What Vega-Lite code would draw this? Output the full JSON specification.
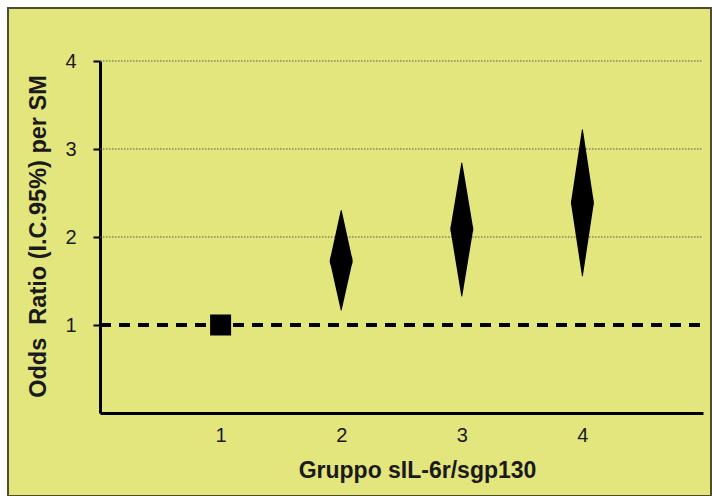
{
  "$schema": "https://vega.github.io/schema/vega-lite/v6.json",
  "width": 703,
  "height": 488,
  "autosize": {"type": "none"},
  "padding": {"left": 8, "top": 8, "right": 1, "bottom": 0},
  "background": "white",
  "config": {
    "font": "Liberation Sans",
    "view": {"fill": "#E3E57D", "stroke": "#4d4d33", "strokeWidth": 2}
  },
  "datasets": {
    "groups": [
      {"group": 1, "or": 1.0, "lo": 1.0, "hi": 1.0},
      {"group": 2, "or": 1.73, "lo": 1.17, "hi": 2.30},
      {"group": 3, "or": 2.09, "lo": 1.33, "hi": 2.84},
      {"group": 4, "or": 2.39, "lo": 1.56, "hi": 3.22}
    ],
    "grid": [{"tick": 2}, {"tick": 3}, {"tick": 4}]
  },
  "layer": [
    {
      "data": {"name": "grid"},
      "mark": {"type": "rule", "color": "#555555", "strokeWidth": 1, "strokeDash": [1.5, 1.5]},
      "encoding": {
        "y": {
          "field": "tick",
          "type": "quantitative",
          "scale": {"domain": [0, 4], "range": [405, 53], "nice": false, "zero": true},
          "axis": {
            "orient": "left",
            "offset": -92,
            "values": [1, 2, 3, 4],
            "format": "d",
            "grid": false,
            "domainColor": "black",
            "domainWidth": 3,
            "tickColor": "black",
            "tickWidth": 2,
            "tickSize": 7,
            "labelFontSize": 20,
            "labelColor": "#1a1a1a",
            "labelPadding": 17,
            "title": "Odds\u00a0\u00a0Ratio (I.C.95%) per SM",
            "titleFontSize": 23.5,
            "titleFontWeight": "bold",
            "titleColor": "#1a1a1a",
            "titleAlign": "center",
            "titleBaseline": "alphabetic",
            "titleAngle": -90,
            "titleX": -55,
            "titleY": 228
          }
        },
        "x": {
          "datum": 0,
          "type": "quantitative",
          "scale": {"domain": [0, 5], "range": [92, 695], "nice": false, "zero": false},
          "axis": {
            "orient": "bottom",
            "offset": -83,
            "values": [1, 2, 3, 4],
            "format": "d",
            "grid": false,
            "ticks": false,
            "domainColor": "black",
            "domainWidth": 3,
            "labelFontSize": 20,
            "labelColor": "#1a1a1a",
            "labelPadding": 12,
            "title": "Gruppo sIL-6r/sgp130",
            "titleFontSize": 23,
            "titleFontWeight": "bold",
            "titleColor": "#1a1a1a",
            "titleAlign": "center",
            "titleBaseline": "alphabetic",
            "titleX": 409,
            "titleY": 64
          }
        },
        "x2": {"datum": 5}
      }
    },
    {
      "data": {"name": "grid"},
      "mark": {"type": "rule", "color": "black", "strokeWidth": 3.5, "strokeDash": [11, 8]},
      "encoding": {
        "y": {"datum": 1, "type": "quantitative"},
        "x": {"datum": 0, "type": "quantitative"},
        "x2": {"datum": 5}
      }
    },
    {
      "data": {"name": "groups"},
      "transform": [{"filter": "datum.group == 1"}],
      "mark": {"type": "point", "shape": "square", "filled": true, "color": "black", "size": 441, "opacity": 1},
      "encoding": {
        "x": {"field": "group", "type": "quantitative"},
        "y": {"field": "or", "type": "quantitative"}
      }
    },
    {
      "data": {"name": "groups"},
      "transform": [
        {"filter": "datum.group > 1"},
        {"fold": ["lo", "or", "hi"], "as": ["stat", "value"]}
      ],
      "mark": {"type": "trail", "color": "black"},
      "encoding": {
        "x": {"field": "group", "type": "quantitative"},
        "y": {"field": "value", "type": "quantitative"},
        "detail": {"field": "group", "type": "nominal"},
        "order": {"field": "value", "type": "quantitative"},
        "size": {
          "field": "stat",
          "type": "ordinal",
          "scale": {"type": "ordinal", "domain": ["lo", "or", "hi"], "range": [0, 23, 0]},
          "legend": null
        }
      }
    }
  ]
}
